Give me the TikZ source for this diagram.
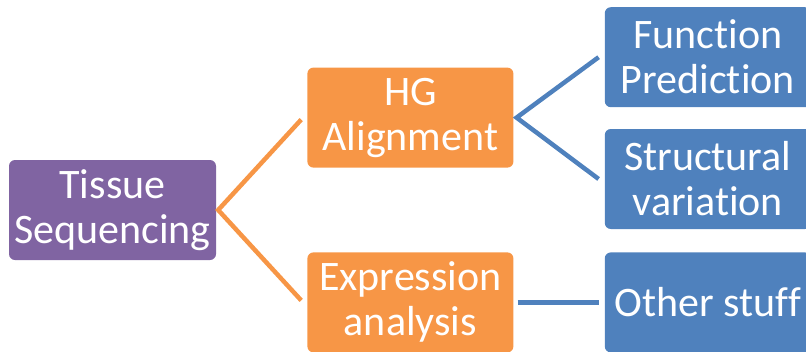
\documentclass[tikz,border=0pt]{standalone}
\usepackage{fontspec}
\setmainfont[Ligatures=NoCommon]{Carlito}
\usetikzlibrary{positioning}
\definecolor{tspurple}{HTML}{8064A2}
\definecolor{tsorange}{HTML}{F79646}
\definecolor{tsblue}{HTML}{4F81BD}
\begin{document}
\begin{tikzpicture}[
x=1pt, y=1pt,
node distance= -8pt and 91pt,
     base/.style = {rounded corners=6pt, text=white, align=center,
                    inner sep=0pt, minimum height=100pt,
                    font=\fontsize{42}{45}\selectfont},
   rootbox/.style = {base, fill=tspurple, minimum width=207pt},
    midbox/.style = {base, fill=tsorange, minimum width=206pt},
   leafbox/.style = {base, fill=tsblue, minimum width=206pt},
     link/.style = {line width=4.5pt}
                    ]
\useasboundingbox (0,0) rectangle (806,-351);
 % main
\node (tissue) [rootbox] at (112.5,-210) {Tissue\\Sequencing};
\node (hg)     [midbox, above right=of tissue] {HG\\Alignment};
\node (expr)   [midbox, below right=of tissue] {Expression\\analysis};
% leaves
\node (func)   [leafbox, above right=-40pt and 91pt of hg] {Function\\Prediction};
\node (struct) [leafbox, below right=-39pt and 91pt of hg] {Structural\\variation};
\node (other)  [leafbox, right=of expr] {Other stuff};

\draw[link, tsorange] ([yshift=-2pt]hg.west) ++(-6,0) -- ([xshift=2pt]tissue.east)
                      -- ([xshift=-6pt,yshift=2pt]expr.west);
\draw[link, tsblue] ([xshift=-6pt]func.west) -- ([xshift=3pt]hg.east)
                    -- ([xshift=-6pt]struct.west);
\draw[link, tsblue] ([xshift=4pt]expr.east) -- ([xshift=-6pt]other.west);
\end{tikzpicture}
\end{document}
